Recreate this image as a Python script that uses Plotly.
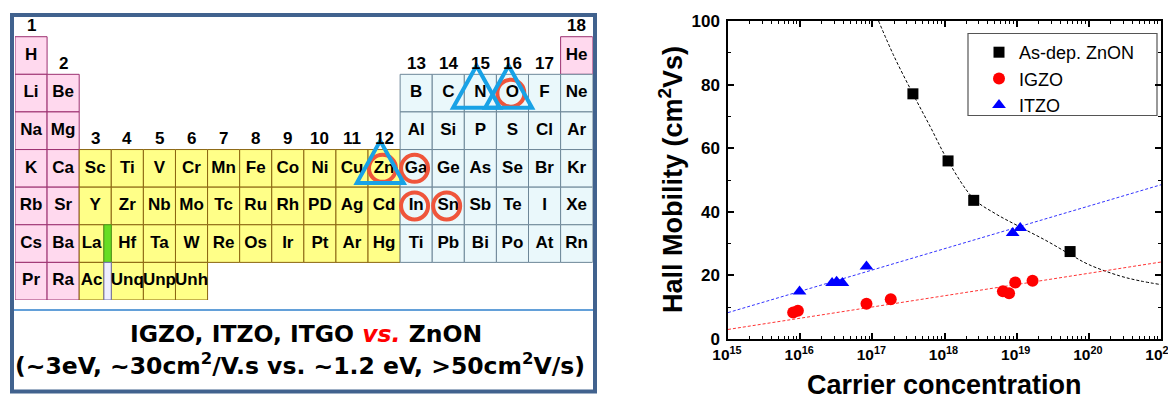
import plotly.graph_objects as go

# ---------------- right chart data ----------------
zn_x = [3.65e17, 1.12e18, 2.54e18, 5.5e19]
zn_y = [77.1, 56.0, 43.6, 27.5]

igzo_x = [8.0e15, 9.3e15, 8.3e16, 1.8e17, 6.45e18, 7.85e18, 9.55e18, 1.66e19]
igzo_y = [8.3, 8.85, 11.1, 12.5, 15.0, 14.4, 17.8, 18.3]

itzo_x = [9.8e15, 2.77e16, 3.2e16, 3.85e16, 8.3e16, 8.8e18, 1.12e19]
itzo_y = [14.9, 17.6, 18.0, 17.6, 22.8, 33.3, 34.9]

zn_fit_x = [1.22e17, 2.0e17, 3.65e17, 6.3e17, 1.12e18, 2.54e18, 5.0e18,
            1.1e19, 2.63e19, 5.5e19, 1e20, 2.63e20, 5.07e20, 1e21]
zn_fit_y = [100, 88.9, 77.1, 66.9, 56.0, 44.1, 39.5,
            35.3, 30.8, 26.6, 23.4, 19.9, 18.3, 17.1]
igzo_fit_x = [1e15, 1e21]
igzo_fit_y = [3.0, 24.2]
itzo_fit_x = [1e15, 1e21]
itzo_fit_y = [8.3, 48.5]

x_tick_exps = [15, 16, 17, 18, 19, 20, 21]
y_ticks = [0, 20, 40, 60, 80, 100]

# ---------------- periodic table data ----------------
period_symbols = [
    ["H", "He"],
    ["Li", "Be", "B", "C", "N", "O", "F", "Ne"],
    ["Na", "Mg", "Al", "Si", "P", "S", "Cl", "Ar"],
    ["K", "Ca", "Sc", "Ti", "V", "Cr", "Mn", "Fe", "Co", "Ni", "Cu", "Zn",
     "Ga", "Ge", "As", "Se", "Br", "Kr"],
    ["Rb", "Sr", "Y", "Zr", "Nb", "Mo", "Tc", "Ru", "Rh", "PD", "Ag", "Cd",
     "In", "Sn", "Sb", "Te", "I", "Xe"],
    ["Cs", "Ba", "La", "Hf", "Ta", "W", "Re", "Os", "Ir", "Pt", "Ar", "Hg",
     "Ti", "Pb", "Bi", "Po", "At", "Rn"],
    ["Pr", "Ra", "Ac", "Unq", "Unp", "Unh"],
]
period_groups = [
    [1, 18],
    [1, 2, 13, 14, 15, 16, 17, 18],
    [1, 2, 13, 14, 15, 16, 17, 18],
    list(range(1, 19)),
    list(range(1, 19)),
    list(range(1, 19)),
    [1, 2, 3, 4, 5, 6],
]
group_numbers = list(range(1, 19))
group_top_period = [1, 2, 4, 4, 4, 4, 4, 4, 4, 4, 4, 4, 2, 2, 2, 2, 2, 1]
circled = [(12, 4), (13, 4), (13, 5), (14, 5), (16, 2)]
triangled = [(15, 2), (16, 2), (12, 4)]
narrow_cells = {"La": 0.77, "Ac": 0.77}
strip_cells = [(3, 6, "#66dd22", "#4c9a1c"), (3, 7, "#eeeeff", "#6f6fa8")]

title_line1 = "IGZO, ITZO, ITGO <span style='color:#ff0000'><b><i>vs.</i></b></span> ZnON"
title_line2 = "(~3eV, ~30cm<sup>2</sup>/V.s vs. ~1.2 eV, &gt;50cm<sup>2</sup>V/s)"

# page offset of the plot div (default body margin)
OFF = 8
W, H = 1176, 401
def px(x):
    return (x - OFF) / W
def py(y):
    return 1 - (y - OFF) / H

block_style = {
    "s": ("#ffd9ee", "#9c3070"),
    "d": ("#ffff88", "#8a6410"),
    "p": ("#eaf8fb", "#6e8798"),
}

fig = go.Figure()
shapes = []
annotations = []

# ---------- periodic table ----------
txt_x, txt_y, txt_s = [], [], []
for p, (syms, grps) in enumerate(zip(period_symbols, period_groups), start=1):
    for s, g in zip(syms, grps):
        if g <= 2 or (p == 1 and g == 18):
            blk = "s"
        elif g <= 12:
            blk = "d"
        else:
            blk = "p"
        fill, edge = block_style[blk]
        w = narrow_cells.get(s, 1.0)
        x0, x1 = g - 0.5, g - 0.5 + w
        shapes.append(dict(type="rect", xref="x2", yref="y2", x0=x0, x1=x1,
                           y0=p - 0.5, y1=p + 0.5, fillcolor=fill,
                           line=dict(color=edge, width=1), layer="below"))
        txt_x.append((x0 + x1) / 2)
        txt_y.append(p)
        txt_s.append(s)
for g, p, fc, lc in strip_cells:
    shapes.append(dict(type="rect", xref="x2", yref="y2",
                       x0=g - 0.5 + 0.77, x1=g + 0.5, y0=p - 0.5, y1=p + 0.5,
                       fillcolor=fc, line=dict(color=lc, width=1), layer="below"))

fig.add_trace(go.Scatter(x=txt_x, y=txt_y, text=txt_s, mode="text",
                         xaxis="x2", yaxis="y2", showlegend=False, hoverinfo="skip",
                         textfont=dict(family="Liberation Sans, Arial", size=17,
                                       color="black", weight="bold")))
fig.add_trace(go.Scatter(x=[g - 0.05 for g, p in circled], y=[p for g, p in circled],
                         mode="markers", xaxis="x2", yaxis="y2", showlegend=False,
                         hoverinfo="skip",
                         marker=dict(symbol="circle-open", size=27,
                                     line=dict(color="#ee1111", width=4))))
for g, p in triangled:
    cx = g - 0.12
    hw, up, dn = 0.73, 0.73, 0.39
    shapes.append(dict(type="path", xref="x2", yref="y2",
                       path=f"M {cx - hw},{p + dn} L {cx},{p - up} L {cx + hw},{p + dn} Z",
                       line=dict(color="#18a2e6", width=4), layer="above"))

for g, tp in zip(group_numbers, group_top_period):
    annotations.append(dict(xref="x2", yref="y2", x=g, y=tp - 0.5 - 0.29,
                            xanchor="center", yanchor="middle",
                            text=f"<b>{g}</b>", showarrow=False,
                            font=dict(family="Liberation Sans, Arial", size=17,
                                      color="black")))

# outer box + separator
shapes.append(dict(type="rect", xref="paper", yref="paper",
                   x0=px(12), x1=px(595), y0=py(391.5), y1=py(15),
                   line=dict(color="#41628e", width=4), fillcolor="rgba(0,0,0,0)",
                   layer="below"))
shapes.append(dict(type="line", xref="paper", yref="paper",
                   x0=px(14), x1=px(593), y0=py(310), y1=py(310),
                   line=dict(color="#2f80cc", width=1.5)))

annotations.append(dict(xref="paper", yref="paper", x=px(306), y=py(334),
                        xanchor="center", yanchor="middle",
                        text=title_line1, showarrow=False,
                        font=dict(family="DejaVu Sans", size=23.5, color="black",
                                  weight="bold")))
annotations.append(dict(xref="paper", yref="paper", x=px(300), y=py(364),
                        xanchor="center", yanchor="middle",
                        text=title_line2, showarrow=False,
                        font=dict(family="DejaVu Sans", size=23.5, color="black",
                                  weight="bold")))

# ---------- right chart ----------
fig.add_trace(go.Scatter(x=zn_fit_x, y=zn_fit_y, mode="lines", showlegend=False,
                         line=dict(color="black", width=1, dash="3px,2px", shape="spline"),
                         hoverinfo="skip"))
fig.add_trace(go.Scatter(x=itzo_fit_x, y=itzo_fit_y, mode="lines", showlegend=False,
                         line=dict(color="#3333ff", width=1, dash="3px,2px"),
                         hoverinfo="skip"))
fig.add_trace(go.Scatter(x=igzo_fit_x, y=igzo_fit_y, mode="lines", showlegend=False,
                         line=dict(color="#ff3333", width=1, dash="3px,2px"),
                         hoverinfo="skip"))
fig.add_trace(go.Scatter(x=zn_x, y=zn_y, mode="markers", name="As-dep. ZnON",
                         marker=dict(symbol="square", size=11, color="black")))
fig.add_trace(go.Scatter(x=igzo_x, y=igzo_y, mode="markers", name="IGZO",
                         marker=dict(symbol="circle", size=12, color="#ff0000")))
fig.add_trace(go.Scatter(x=itzo_x, y=itzo_y, mode="markers", name="ITZO",
                         marker=dict(symbol="triangle-up", size=12, color="#0000ff")))

# legend box
shapes.append(dict(type="rect", xref="paper", yref="paper",
                   x0=px(968), x1=px(1157), y0=py(115.5), y1=py(33.5),
                   line=dict(color="#555555", width=1.2), fillcolor="white",
                   layer="below"))

annotations.append(dict(xref="paper", yref="paper", x=px(671), y=py(180),
                        xanchor="center", yanchor="middle",
                        text="<b>Hall Mobility (cm<sup>2</sup>Vs)</b>", textangle=-90,
                        showarrow=False,
                        font=dict(family="Liberation Sans, Arial", size=27, color="black")))
annotations.append(dict(xref="paper", yref="paper", x=px(944), y=py(385),
                        xanchor="center", yanchor="middle",
                        text="<b>Carrier concentration</b>", showarrow=False,
                        font=dict(family="Liberation Sans, Arial", size=27, color="black")))

x_tick_font = dict(family="Liberation Sans, Arial", size=15.5, color="black", weight="bold")
y_tick_font = dict(family="Liberation Sans, Arial", size=17, color="black", weight="bold")
fig.update_layout(
    width=W, height=H, autosize=False,
    margin=dict(l=0, r=0, t=0, b=0, pad=0, autoexpand=False),
    paper_bgcolor="white", plot_bgcolor="white",
    shapes=shapes, annotations=annotations,
    xaxis=dict(type="log", range=[15, 21], domain=[px(728), px(1161)],
               anchor="y", showline=True, linecolor="black", linewidth=1.5,
               mirror="ticks", ticks="inside", ticklen=6, tickwidth=1.5,
               tickcolor="black", showgrid=False, zeroline=False, automargin=False,
               tickvals=[10.0 ** e for e in x_tick_exps],
               ticktext=[f"<b>10<sup>{e}</sup></b>" for e in x_tick_exps],
               tickfont=x_tick_font, ticklabelstandoff=1, ticklabelshift=-1,
               minor=dict(ticks="inside", ticklen=3, tickwidth=1, tickcolor="black",
                          dtick="D1", showgrid=False)),
    yaxis=dict(range=[0, 100], domain=[py(339), py(21)], anchor="x",
               showline=True, linecolor="black", linewidth=1.5,
               mirror="ticks", ticks="inside", ticklen=6, tickwidth=1.5,
               tickcolor="black", showgrid=False, zeroline=False, automargin=False,
               tickvals=y_ticks, tickfont=y_tick_font, ticklabelstandoff=3,
               minor=dict(ticks="inside", ticklen=3, tickwidth=1, tickcolor="black",
                          dtick=10, showgrid=False)),
    xaxis2=dict(range=[0.5, 18.5], domain=[px(15), px(592.7)], anchor="y2",
                visible=False, fixedrange=True, automargin=False),
    yaxis2=dict(range=[7.5, 0.0], domain=[py(300), py(36.7 - 18.8)], anchor="x2",
                visible=False, fixedrange=True, automargin=False),
    legend=dict(x=px(979), y=py(34), xanchor="left", yanchor="top",
                bgcolor="rgba(0,0,0,0)", borderwidth=0,
                font=dict(family="Liberation Sans, Arial", size=18, color="black")),
)

fig.write_html("out.html")
